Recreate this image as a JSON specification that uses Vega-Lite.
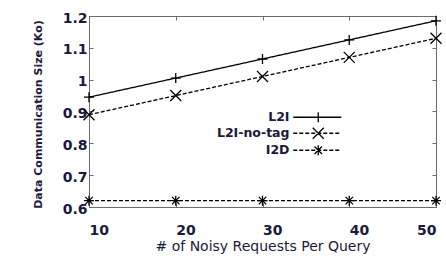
{
  "$schema": "https://vega.github.io/schema/vega-lite/v6.json",
  "width": 347,
  "height": 191,
  "autosize": {"type": "none"},
  "padding": {"left": 89, "top": 16, "right": 10, "bottom": 49},
  "background": "white",
  "config": {
    "view": {"stroke": "#6b6b6b", "strokeWidth": 1},
    "font": "DejaVu Sans",
    "axis": {"grid": false, "domain": false, "tickColor": "#6b6b6b", "tickSize": -4, "tickWidth": 1}
  },
  "data": {
    "values": [
      {"n": 10, "method": "L2I", "size": 0.945},
      {"n": 20, "method": "L2I", "size": 1.005},
      {"n": 30, "method": "L2I", "size": 1.065},
      {"n": 40, "method": "L2I", "size": 1.125},
      {"n": 50, "method": "L2I", "size": 1.185},
      {"n": 10, "method": "L2I-no-tag", "size": 0.89},
      {"n": 20, "method": "L2I-no-tag", "size": 0.95},
      {"n": 30, "method": "L2I-no-tag", "size": 1.01},
      {"n": 40, "method": "L2I-no-tag", "size": 1.07},
      {"n": 50, "method": "L2I-no-tag", "size": 1.13},
      {"n": 10, "method": "I2D", "size": 0.62},
      {"n": 20, "method": "I2D", "size": 0.62},
      {"n": 30, "method": "I2D", "size": 0.62},
      {"n": 40, "method": "I2D", "size": 0.62},
      {"n": 50, "method": "I2D", "size": 0.62}
    ]
  },
  "layer": [
    {
      "mark": {"type": "line", "color": "black", "strokeWidth": 1.3},
      "encoding": {
        "x": {"field": "n", "type": "quantitative",
          "scale": {"domain": [10, 50], "nice": false, "zero": false},
          "axis": {"orient": "bottom", "values": [10, 20, 30, 40, 50], "title": "# of Noisy Requests Per Query",
            "titleFont": "DejaVu Sans", "titleFontSize": 14, "titleFontWeight": "normal", "titleColor": "#1a1a3a", "titlePadding": 2,
            "labelFont": "DejaVu Sans", "labelFontSize": 14, "labelFontWeight": "bold", "labelColor": "#1a1a3a", "labelPadding": 20,
            "labelAlign": {"condition": {"test": "datum.value == 50", "value": "right"}, "value": "left"}}},
        "y": {"field": "size", "type": "quantitative",
          "scale": {"domain": [0.6, 1.2], "nice": false, "zero": false},
          "axis": {"orient": "left", "values": [0.6, 0.7, 0.8, 0.9, 1.0, 1.1, 1.2], "format": "~g", "title": "Data Communication Size (Ko)",
            "titleFont": "DejaVu Sans", "titleFontSize": 11, "titleFontWeight": "bold", "titleColor": "#1a1a3a",
            "titleX": -51, "titleY": 98, "titleAnchor": "middle", "titleBaseline": "middle", "titleAngle": -90,
            "labelFont": "DejaVu Sans", "labelFontSize": 14, "labelFontWeight": "bold", "labelColor": "#1a1a3a", "labelPadding": 6, "labelOffset": 2}},
        "detail": {"field": "method"},
        "strokeDash": {"field": "method", "type": "nominal",
          "scale": {"domain": ["L2I", "L2I-no-tag", "I2D"], "range": [[1, 0], [4, 2], [4, 2]]}, "legend": null}
      }
    },
    {
      "mark": {"type": "point", "filled": false, "color": "black", "strokeWidth": 1.3, "size": 100, "opacity": 1},
      "encoding": {
        "x": {"field": "n", "type": "quantitative", "axis": null},
        "y": {"field": "size", "type": "quantitative", "axis": null},
        "shape": {"field": "method", "type": "nominal",
          "scale": {"domain": ["L2I", "L2I-no-tag", "I2D"],
            "range": ["M-1,0H1M0,-1V1", "M-1.1,-1.1L1.1,1.1M-1.1,1.1L1.1,-1.1", "M-1,0H1M0,-1V1M-0.75,-0.75L0.75,0.75M-0.75,0.75L0.75,-0.75"]},
          "legend": null}
      }
    },
    {
      "transform": [{"filter": "datum.n > 1000"}],
      "mark": {"type": "point", "filled": false, "color": "black", "strokeWidth": 1.3, "opacity": 1},
      "encoding": {
        "x": {"field": "n", "type": "quantitative",
          "axis": {"orient": "top", "values": [10, 20, 30, 40, 50], "labels": false, "title": null}},
        "y": {"field": "size", "type": "quantitative",
          "axis": {"orient": "right", "values": [0.6, 0.7, 0.8, 0.9, 1.0, 1.1, 1.2], "labels": false, "title": null}},
        "shape": {"field": "method", "type": "nominal",
          "scale": {"domain": ["L2I", "L2I-no-tag", "I2D"],
            "range": [
              "M-5,0H4.6M0,-1V1",
              "M-5,0H-4.2M-3.8,0H-3M-2.6,0H-1.8M-1.4,0H-0.6M-0.2,0H0.6M1,0H1.8M2.2,0H3M3.4,0H4.2M-1.1,-1.1L1.1,1.1M-1.1,1.1L1.1,-1.1",
              "M-5,0H-4.2M-3.8,0H-3M-2.6,0H-1.8M-1.4,0H-0.6M-0.2,0H0.6M1,0H1.8M2.2,0H3M3.4,0H4.2M0,-1V1M-0.75,-0.75L0.75,0.75M-0.75,0.75L0.75,-0.75"
            ]},
          "legend": {"orient": "none", "legendX": 223, "legendY": 95, "title": null, "padding": 0, "rowPadding": 0,
            "symbolSize": 100, "symbolStrokeWidth": 1.3, "symbolStrokeColor": "black", "symbolFillColor": "transparent", "symbolOpacity": 1,
            "labelAlign": "right", "labelOffset": -35, "labelBaseline": "middle",
            "labelFont": "DejaVu Sans", "labelFontSize": 12.5, "labelFontWeight": "bold", "labelColor": "#1a1a3a"}}
      }
    }
  ],
  "resolve": {
    "scale": {"shape": "independent"},
    "axis": {"x": "independent", "y": "independent"},
    "legend": {"shape": "independent"}
  }
}
